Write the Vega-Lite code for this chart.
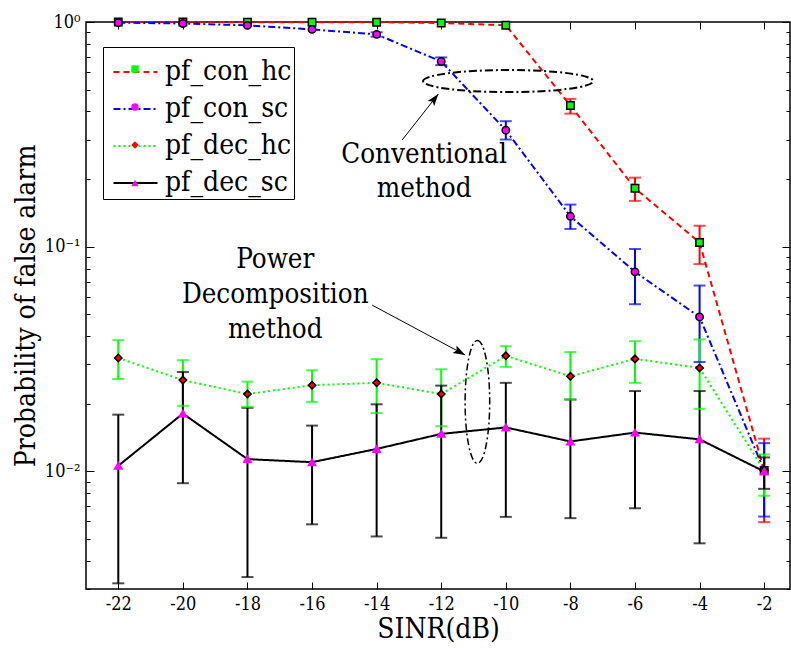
{
  "$schema": "https://vega.github.io/schema/vega-lite/v6.json",
  "width": 704,
  "height": 567,
  "autosize": "none",
  "padding": {"left": 86, "top": 22, "right": 1, "bottom": 59},
  "background": "white",
  "config": {
    "font": "DejaVu Serif Condensed",
    "view": {"stroke": "black", "strokeWidth": 1.5},
    "axis": {
      "grid": false,
      "domain": false,
      "labelFont": "DejaVu Serif Condensed",
      "labelFontSize": 18,
      "labelColor": "black",
      "tickColor": "black",
      "tickWidth": 1,
      "titleFont": "DejaVu Serif Condensed",
      "titleFontSize": 28,
      "titleFontWeight": "normal",
      "titleColor": "black"
    },
    "legend": {
      "labelFont": "DejaVu Serif Condensed"
    }
  },
  "datasets": {
    "pts": [
      {"x": -22, "s": "pf_con_hc", "y": 1.0, "lo": null, "hi": null},
      {"x": -20, "s": "pf_con_hc", "y": 1.0, "lo": null, "hi": null},
      {"x": -18, "s": "pf_con_hc", "y": 0.998, "lo": null, "hi": null},
      {"x": -16, "s": "pf_con_hc", "y": 0.998, "lo": null, "hi": null},
      {"x": -14, "s": "pf_con_hc", "y": 0.998, "lo": null, "hi": null},
      {"x": -12, "s": "pf_con_hc", "y": 0.99, "lo": null, "hi": null},
      {"x": -10, "s": "pf_con_hc", "y": 0.967, "lo": null, "hi": null},
      {"x": -8, "s": "pf_con_hc", "y": 0.425, "lo": 0.391, "hi": 0.455},
      {"x": -6, "s": "pf_con_hc", "y": 0.182, "lo": 0.16, "hi": 0.203},
      {"x": -4, "s": "pf_con_hc", "y": 0.1045, "lo": 0.0837, "hi": 0.124},
      {"x": -2, "s": "pf_con_hc", "y": 0.0101, "lo": 0.00595, "hi": 0.014},
      {"x": -22, "s": "pf_con_sc", "y": 0.993, "lo": null, "hi": null},
      {"x": -20, "s": "pf_con_sc", "y": 0.985, "lo": null, "hi": null},
      {"x": -18, "s": "pf_con_sc", "y": 0.966, "lo": null, "hi": null},
      {"x": -16, "s": "pf_con_sc", "y": 0.927, "lo": null, "hi": null},
      {"x": -14, "s": "pf_con_sc", "y": 0.881, "lo": 0.86, "hi": 0.9},
      {"x": -12, "s": "pf_con_sc", "y": 0.667, "lo": 0.643, "hi": 0.696},
      {"x": -10, "s": "pf_con_sc", "y": 0.33, "lo": 0.3, "hi": 0.362},
      {"x": -8, "s": "pf_con_sc", "y": 0.1366, "lo": 0.12, "hi": 0.154},
      {"x": -6, "s": "pf_con_sc", "y": 0.0773, "lo": 0.0555, "hi": 0.0977},
      {"x": -4, "s": "pf_con_sc", "y": 0.0487, "lo": 0.0307, "hi": 0.0672},
      {"x": -2, "s": "pf_con_sc", "y": 0.0101, "lo": 0.0063, "hi": 0.01337},
      {"x": -22, "s": "pf_dec_hc", "y": 0.032, "lo": 0.0258, "hi": 0.0384},
      {"x": -20, "s": "pf_dec_hc", "y": 0.0255, "lo": 0.0196, "hi": 0.0313},
      {"x": -18, "s": "pf_dec_hc", "y": 0.0221, "lo": 0.0194, "hi": 0.0251},
      {"x": -16, "s": "pf_dec_hc", "y": 0.0242, "lo": 0.0204, "hi": 0.0282},
      {"x": -14, "s": "pf_dec_hc", "y": 0.0248, "lo": 0.0182, "hi": 0.0316},
      {"x": -12, "s": "pf_dec_hc", "y": 0.0221, "lo": 0.0159, "hi": 0.0285},
      {"x": -10, "s": "pf_dec_hc", "y": 0.0327, "lo": 0.0292, "hi": 0.0361},
      {"x": -8, "s": "pf_dec_hc", "y": 0.0265, "lo": 0.0209, "hi": 0.034},
      {"x": -6, "s": "pf_dec_hc", "y": 0.0317, "lo": 0.0248, "hi": 0.038},
      {"x": -4, "s": "pf_dec_hc", "y": 0.0289, "lo": 0.019, "hi": 0.0387},
      {"x": -2, "s": "pf_dec_hc", "y": 0.0101, "lo": 0.0078, "hi": 0.0119},
      {"x": -22, "s": "pf_dec_sc", "y": 0.0106, "lo": 0.00318, "hi": 0.0179},
      {"x": -20, "s": "pf_dec_sc", "y": 0.0181, "lo": 0.00887, "hi": 0.0277},
      {"x": -18, "s": "pf_dec_sc", "y": 0.01135, "lo": 0.00339, "hi": 0.0192},
      {"x": -16, "s": "pf_dec_sc", "y": 0.011, "lo": 0.00582, "hi": 0.016},
      {"x": -14, "s": "pf_dec_sc", "y": 0.0126, "lo": 0.00514, "hi": 0.0199},
      {"x": -12, "s": "pf_dec_sc", "y": 0.0147, "lo": 0.00507, "hi": 0.0241},
      {"x": -10, "s": "pf_dec_sc", "y": 0.0157, "lo": 0.00628, "hi": 0.0248},
      {"x": -8, "s": "pf_dec_sc", "y": 0.0136, "lo": 0.0062, "hi": 0.0209},
      {"x": -6, "s": "pf_dec_sc", "y": 0.0149, "lo": 0.00686, "hi": 0.0228},
      {"x": -4, "s": "pf_dec_sc", "y": 0.0139, "lo": 0.00479, "hi": 0.0228},
      {"x": -2, "s": "pf_dec_sc", "y": 0.01, "lo": 0.00837, "hi": 0.01155}
    ],
    "notes": [
      {"x": -12.53, "y": 0.2358, "text": "Conventional"},
      {"x": -12.53, "y": 0.1664, "text": "method"},
      {"x": -17.14, "y": 0.0804, "text": "Power"},
      {"x": -17.14, "y": 0.0562, "text": "Decomposition"},
      {"x": -17.14, "y": 0.0392, "text": "method"}
    ],
    "arrows": [
      {"x": -13.21, "y": 0.2985, "x2": -12.09, "y2": 0.478},
      {"x": -14.14, "y": 0.055, "x2": -11.26, "y2": 0.033}
    ]
  },
  "resolve": {"axis": {"x": "independent", "y": "independent"}},
  "layer": [
    {
      "data": {"name": "pts"},
      "mark": {"type": "line", "strokeWidth": 2},
      "encoding": {
        "x": {
          "field": "x", "type": "quantitative",
          "scale": {"domain": [-23, -1.2]},
          "axis": {
            "orient": "bottom",
            "values": [-22, -20, -18, -16, -14, -12, -10, -8, -6, -4, -2],
            "labelExpr": "'' + datum.value",
            "tickSize": -7,
            "labelPadding": 13,
            "title": "SINR(dB)",
            "titlePadding": 2
          }
        },
        "y": {
          "field": "y", "type": "quantitative",
          "scale": {"type": "log", "domain": [0.003, 1]},
          "axis": {
            "orient": "left",
            "values": [0.003, 0.004, 0.005, 0.006, 0.007, 0.008, 0.009, 0.01, 0.02, 0.03, 0.04, 0.05, 0.06, 0.07, 0.08, 0.09, 0.1, 0.2, 0.3, 0.4, 0.5, 0.6, 0.7, 0.8, 0.9, 1],
            "labelExpr": "datum.value == 1 ? '10⁰' : datum.value == 0.1 ? '10⁻¹' : datum.value == 0.01 ? '10⁻²' : ''",
            "tickSize": {"condition": {"test": "datum.value == 1 || datum.value == 0.1 || datum.value == 0.01", "value": -8}, "value": -4},
            "labelPadding": 14,
            "title": "Probability of false alarm",
            "titlePadding": 4
          }
        },
        "stroke": {
          "field": "s", "type": "nominal",
          "scale": {"domain": ["pf_con_hc", "pf_con_sc", "pf_dec_hc", "pf_dec_sc"], "range": ["#ff0000", "#0000ff", "#00ff00", "#000000"]},
          "legend": {
            "orient": "none", "legendX": 17, "legendY": 25, "title": null,
            "symbolType": "stroke", "symbolSize": 1936, "symbolStrokeWidth": 2, "symbolOffset": 7.5,
            "labelFontSize": 28, "labelColor": "black",
            "labelOffset": 6.5, "strokeColor": "black", "padding": 2, "rowPadding": 0,
            "labelExpr": "datum.label + '   '"
          }
        },
        "strokeDash": {
          "field": "s", "type": "nominal",
          "scale": {"domain": ["pf_con_hc", "pf_con_sc", "pf_dec_hc", "pf_dec_sc"], "range": [[6, 4], [7, 3, 2, 3], [2, 3], [1, 0]]},
          "legend": {
            "orient": "none", "legendX": 17, "legendY": 25, "title": null,
            "symbolType": "stroke", "symbolSize": 1936, "symbolStrokeWidth": 2, "symbolOffset": 7.5,
            "labelFontSize": 28, "labelColor": "black",
            "labelOffset": 6.5, "strokeColor": "black", "padding": 2, "rowPadding": 0,
            "labelExpr": "datum.label + '   '"
          }
        }
      }
    },
    {
      "data": {"name": "pts"},
      "transform": [{"filter": "isValid(datum.lo)"}],
      "mark": {"type": "rule", "strokeWidth": 2},
      "encoding": {
        "x": {"field": "x", "type": "quantitative", "scale": {"domain": [-23, -1.2]}, "axis": null},
        "y": {"field": "lo", "type": "quantitative", "scale": {"type": "log", "domain": [0.003, 1]}, "axis": null},
        "y2": {"field": "hi"},
        "color": {"field": "s", "type": "nominal", "scale": {"domain": ["pf_con_hc", "pf_con_sc", "pf_dec_hc", "pf_dec_sc"], "range": ["#ff0000", "#0000ff", "#00ff00", "#000000"]}, "legend": null}
      }
    },
    {
      "data": {"name": "pts"},
      "transform": [{"filter": "isValid(datum.lo)"}],
      "mark": {"type": "tick", "orient": "horizontal", "size": 12, "thickness": 2},
      "encoding": {
        "x": {"field": "x", "type": "quantitative", "scale": {"domain": [-23, -1.2]}, "axis": null},
        "y": {"field": "hi", "type": "quantitative", "scale": {"type": "log", "domain": [0.003, 1]}, "axis": null},
        "color": {"field": "s", "type": "nominal", "scale": {"domain": ["pf_con_hc", "pf_con_sc", "pf_dec_hc", "pf_dec_sc"], "range": ["#ff0000", "#0000ff", "#00ff00", "#000000"]}, "legend": null}
      }
    },
    {
      "data": {"name": "pts"},
      "transform": [{"filter": "isValid(datum.lo)"}],
      "mark": {"type": "tick", "orient": "horizontal", "size": 12, "thickness": 2},
      "encoding": {
        "x": {"field": "x", "type": "quantitative", "scale": {"domain": [-23, -1.2]}, "axis": null},
        "y": {"field": "lo", "type": "quantitative", "scale": {"type": "log", "domain": [0.003, 1]}, "axis": null},
        "color": {"field": "s", "type": "nominal", "scale": {"domain": ["pf_con_hc", "pf_con_sc", "pf_dec_hc", "pf_dec_sc"], "range": ["#ff0000", "#0000ff", "#00ff00", "#000000"]}, "legend": null}
      }
    },
    {
      "data": {"name": "pts"},
      "mark": {"type": "point", "filled": true, "size": 55, "strokeWidth": 1.5, "opacity": 1},
      "encoding": {
        "x": {"field": "x", "type": "quantitative", "scale": {"domain": [-23, -1.2]}, "axis": null},
        "y": {"field": "y", "type": "quantitative", "scale": {"type": "log", "domain": [0.003, 1]}, "axis": null},
        "fill": {
          "field": "s", "type": "nominal",
          "scale": {"range": ["#00ff00", "#ff00ff", "#ff0000", "#ff00ff"]},
          "legend": {
            "orient": "none", "legendX": 27, "legendY": 25, "title": null,
            "symbolSize": 55, "symbolStrokeColor": "black", "symbolStrokeWidth": 1.5,
            "labelFontSize": 28, "labelColor": "transparent",
            "labelOffset": 6, "padding": 8, "rowPadding": 10
          }
        },
        "shape": {
          "field": "s", "type": "nominal",
          "scale": {"range": ["square", "circle", "diamond", "triangle-up"]},
          "legend": {
            "orient": "none", "legendX": 27, "legendY": 25, "title": null,
            "symbolSize": 55, "symbolStrokeColor": "black", "symbolStrokeWidth": 1.5,
            "labelFontSize": 28, "labelColor": "transparent",
            "labelOffset": 6, "padding": 8, "rowPadding": 10
          }
        },
        "stroke": {"condition": {"test": "datum.s == 'pf_dec_sc'", "value": "#ff00ff"}, "value": "black"}
      }
    },
    {
      "data": {"name": "notes"},
      "mark": {"type": "text", "font": "DejaVu Serif Condensed", "fontSize": 27.5, "align": "center", "baseline": "alphabetic", "color": "black"},
      "encoding": {
        "x": {"field": "x", "type": "quantitative", "scale": {"domain": [-23, -1.2]}, "axis": null},
        "y": {"field": "y", "type": "quantitative", "scale": {"type": "log", "domain": [0.003, 1]}, "axis": null},
        "text": {"field": "text"}
      }
    },
    {
      "data": {"name": "arrows"},
      "mark": {"type": "rule", "strokeWidth": 1, "color": "black"},
      "encoding": {
        "x": {"field": "x", "type": "quantitative", "scale": {"domain": [-23, -1.2]}, "axis": null},
        "y": {"field": "y", "type": "quantitative", "scale": {"type": "log", "domain": [0.003, 1]}, "axis": null},
        "x2": {"field": "x2"},
        "y2": {"field": "y2"}
      }
    },
    {
      "data": {"values": [{"x": -12.09, "y": 0.478}]},
      "mark": {"type": "point", "shape": "M0,0L-0.35,1L0,0.8L0.35,1Z", "size": 576, "filled": true, "color": "black", "opacity": 1, "angle": 38},
      "encoding": {
        "x": {"field": "x", "type": "quantitative", "scale": {"domain": [-23, -1.2]}, "axis": null},
        "y": {"field": "y", "type": "quantitative", "scale": {"type": "log", "domain": [0.003, 1]}, "axis": null}
      }
    },
    {
      "data": {"values": [{"x": -11.26, "y": 0.033}]},
      "mark": {"type": "point", "shape": "M0,0L-0.35,1L0,0.8L0.35,1Z", "size": 576, "filled": true, "color": "black", "opacity": 1, "angle": 118},
      "encoding": {
        "x": {"field": "x", "type": "quantitative", "scale": {"domain": [-23, -1.2]}, "axis": null},
        "y": {"field": "y", "type": "quantitative", "scale": {"type": "log", "domain": [0.003, 1]}, "axis": null}
      }
    },
    {
      "data": {"values": [{"x": -9.93, "y": 0.546}]},
      "mark": {"type": "point", "shape": "M-1,0A1,0.13,0,1,1,1,0A1,0.13,0,1,1,-1,0Z", "size": 28900, "filled": false, "color": "black", "opacity": 1, "strokeWidth": 2, "strokeDash": [8, 3, 2, 3]},
      "encoding": {
        "x": {"field": "x", "type": "quantitative", "scale": {"domain": [-23, -1.2]}, "axis": null},
        "y": {"field": "y", "type": "quantitative", "scale": {"type": "log", "domain": [0.003, 1]}, "axis": null}
      }
    },
    {
      "data": {"values": [{"x": -10.88, "y": 0.0204}]},
      "mark": {"type": "point", "shape": "M0,-1A0.2,1,0,1,1,0,1A0.2,1,0,1,1,0,-1Z", "size": 15129, "filled": false, "color": "black", "opacity": 1, "strokeWidth": 1.5, "strokeDash": [7, 3, 2, 3]},
      "encoding": {
        "x": {
          "field": "x", "type": "quantitative", "scale": {"domain": [-23, -1.2]},
          "axis": {"orient": "top", "values": [-22, -20, -18, -16, -14, -12, -10, -8, -6, -4, -2], "labels": false, "tickSize": -7, "title": null}
        },
        "y": {
          "field": "y", "type": "quantitative", "scale": {"type": "log", "domain": [0.003, 1]},
          "axis": {
            "orient": "right",
            "values": [0.003, 0.004, 0.005, 0.006, 0.007, 0.008, 0.009, 0.01, 0.02, 0.03, 0.04, 0.05, 0.06, 0.07, 0.08, 0.09, 0.1, 0.2, 0.3, 0.4, 0.5, 0.6, 0.7, 0.8, 0.9, 1],
            "labels": false,
            "tickSize": {"condition": {"test": "datum.value == 1 || datum.value == 0.1 || datum.value == 0.01", "value": -8}, "value": -4},
            "title": null
          }
        }
      }
    }
  ]
}
